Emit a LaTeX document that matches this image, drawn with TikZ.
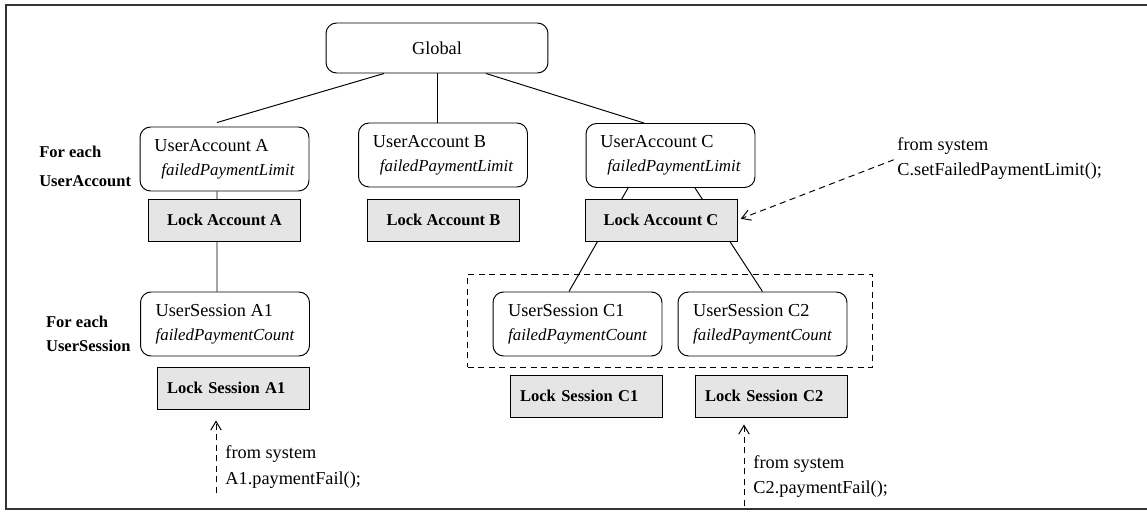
\documentclass[tikz,border=0pt]{standalone}
\usepackage{fontspec}
\setmainfont{Liberation Serif}
\usetikzlibrary{arrows.meta}
\usetikzlibrary{positioning,fit,calc}
\tikzset{sysarrow/.style={densely dashed,dash pattern=on 3.5pt off 2.5pt,
                          -{Straight Barb[length=5pt,width=6pt]}}}
\definecolor{lockgray}{rgb}{0.9, 0.9, 0.9}
\definecolor{framegray}{rgb}{0.2, 0.2, 0.2}
\newcommand{\regfont}{\fontsize{10.4}{13.7}\selectfont}
\newcommand{\attr}[1]{{\fontsize{9.6}{13.7}\selectfont\itshape #1}}

\begin{document}
\begin{tikzpicture}[x=0.02cm,y=-0.02cm,line width=0.55pt,
		objbox/.style={draw,rounded corners=6pt,minimum width=3.38cm,minimum height=1.28cm,
			align=left,font=\regfont},
		lockbox/.style={draw,fill=lockgray,minimum width=3.04cm,minimum height=0.84cm,
			font=\fontsize{9.4}{12}\selectfont\bfseries},
		sesslock/.style={text width=2.64cm,inner xsep=0.2cm,align=left},
		grouplabel/.style={align=left,inner sep=0pt,font=\fontsize{9.4}{13.7}\selectfont\bfseries},
		sysnote/.style={align=left,inner sep=0pt,font=\fontsize{10.4}{14.5}\selectfont},
		groupbox/.style={draw,dash pattern=on 3.5pt off 2.5pt,inner xsep=0.5cm,inner ysep=0.28cm}
	]
	\useasboundingbox (0,0) rectangle (1147,511);
	\draw[framegray,line width=0.9pt] (6,5) rectangle (1160,509);

	% the root
	\node[objbox,minimum width=4.44cm,minimum height=1cm,align=center] (global) at (437,48) {Global};

	% the user accounts
	\node[objbox] (ua) at (224.5,159) {UserAccount A\\\hspace*{0.14cm}\attr{failedPaymentLimit}};
	\node[objbox] (ub) at (443,155) {UserAccount B\\\hspace*{0.14cm}\attr{failedPaymentLimit}};
	\node[objbox] (uc) at (670.5,155.5) {UserAccount C\\\hspace*{0.14cm}\attr{failedPaymentLimit}};

	% the user sessions
	\node[objbox] (usa1) at (225,324) {UserSession A1\\\attr{failedPaymentCount}};
	\node[objbox] (usc1) at (577.5,324) {UserSession C1\\\attr{failedPaymentCount}};
	\node[objbox] (usc2) at (762.5,324) {UserSession C2\\\attr{failedPaymentCount}};

	% the sessions of C
	\node[groupbox,fit=(usc1) (usc2),yshift=0.06cm] (grpc) {};

	% the labels
	\node[grouplabel,left=0.16cm of ua,yshift=-0.14cm] (lblacc) {For each\\[2.8pt]UserAccount};
	\node[grouplabel,left=0.18cm of usa1,yshift=-0.19cm] (lblsess) {For each\\UserSession};

	% the edges
	\draw ([xshift=-1.06cm]global.south) -- ([xshift=-0.15cm,yshift=0.08cm]ua.north);
	\draw (global.south) -- (global.south |- ub.north);
	\draw ([xshift=0.98cm]global.south) -- ([xshift=-0.53cm]uc.north);
	\draw ([xshift=-0.15cm]ua.south) -- ([xshift=-0.16cm]usa1.north);
	\draw ([xshift=-0.85cm]uc.south) -- ([xshift=-0.17cm]usc1.north);
	\draw ([xshift=0.49cm]uc.south) -- (usc2.north);

	% the locks, over the edges
	\node[lockbox] (la) at (224.5,220) {Lock Account A};
	\node[lockbox] (lb) at (443.5,220) {Lock Account B};
	\node[lockbox] (lc) at (661,220) {Lock Account C};
	\node[lockbox,sesslock] (lsa1) at (233,388) {Lock Session A1};
	\node[lockbox,sesslock] (lsc1) at (586,396) {Lock Session C1};
	\node[lockbox,sesslock] (lsc2) at (771,396) {Lock Session C2};

	% the calls from the system
	\node[sysnote,anchor=west] (sysc) at (897,158.5) {from system\\C.setFailedPaymentLimit();};
	\node[sysnote,anchor=west] (sysa1) at (225,467) {from system\\A1.paymentFail();};
	\node[sysnote,anchor=west] (sysc2) at (753,476.5) {from system\\C2.paymentFail();};
	\coordinate (ina1) at (216,493);
	\coordinate (inc2) at (744,506);

	\draw[sysarrow,shorten <=2pt,shorten >=2pt] (sysc.west) -- (lc.east);
	\draw[sysarrow,shorten >=0.22cm] (ina1) -- (ina1 |- lsa1.south);
	\draw[sysarrow,shorten >=0.14cm] (inc2) -- (inc2 |- lsc2.south);
\end{tikzpicture}
\end{document}
